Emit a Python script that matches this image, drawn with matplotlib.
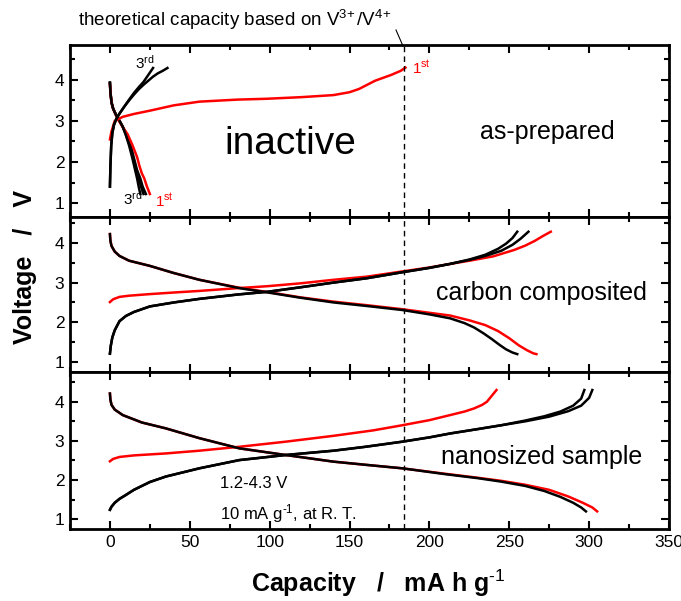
import numpy as np
import matplotlib
matplotlib.use("Agg")
from matplotlib import pyplot as plt
from matplotlib.lines import Line2D

plt.rcParams['font.family'] = ['Liberation Sans', 'DejaVu Sans']
plt.rcParams['mathtext.fontset'] = 'custom'
plt.rcParams['mathtext.rm'] = 'Liberation Sans'
plt.rcParams['mathtext.it'] = 'Liberation Sans:italic'
plt.rcParams['mathtext.bf'] = 'Liberation Sans:bold'

# ---- as-prepared (inactive) ----
top_red_chg_x = [0, 1, 3, 8, 15, 25, 40, 56, 80, 98, 120, 140, 150, 156, 161, 166, 171, 176, 182, 185]
top_red_chg_v = [2.55, 2.75, 3.0, 3.1, 3.17, 3.25, 3.38, 3.47, 3.52, 3.54, 3.58, 3.63, 3.7, 3.78, 3.88, 3.98, 4.05, 4.12, 4.22, 4.3]
top_red_dis_x = [0, 0.3, 1, 2, 4, 6, 8, 11, 14, 17, 18.5, 20, 21.5, 23, 25]
top_red_dis_v = [3.9, 3.7, 3.45, 3.3, 3.12, 2.98, 2.85, 2.68, 2.42, 2.12, 1.9, 1.72, 1.6, 1.42, 1.22]
top_blk_chg_a_x = [0, 0.3, 0.8, 1.5, 2.5, 4, 6, 9, 12, 15, 18, 21, 24, 27]
top_blk_chg_a_v = [1.4, 1.9, 2.4, 2.7, 2.9, 3.05, 3.18, 3.35, 3.52, 3.68, 3.82, 3.95, 4.12, 4.29]
top_blk_chg_b_x = [0, 0.3, 0.8, 1.5, 2.5, 4, 6, 9, 12, 15, 18, 21, 24, 27, 30, 33, 36]
top_blk_chg_b_v = [1.4, 1.9, 2.4, 2.7, 2.9, 3.05, 3.18, 3.35, 3.5, 3.64, 3.77, 3.88, 3.98, 4.08, 4.16, 4.22, 4.29]
top_blk_dis_a_x = [0, 0.3, 1, 2, 4, 6, 8, 10, 12, 14, 15.5, 17, 18, 19]
top_blk_dis_a_v = [3.93, 3.7, 3.45, 3.3, 3.13, 3.0, 2.86, 2.65, 2.4, 2.1, 1.85, 1.6, 1.4, 1.22]
top_blk_dis_b_x = [0, 0.3, 1, 2, 4, 6, 8, 10, 12.5, 14.5, 16.5, 18, 19.5, 21]
top_blk_dis_b_v = [3.93, 3.7, 3.45, 3.3, 3.13, 3.0, 2.86, 2.67, 2.4, 2.1, 1.8, 1.6, 1.4, 1.22]
top_blk_dis_c_x = [0, 0.3, 1, 2, 4, 6, 8, 10.5, 13, 15, 17, 19, 20.5, 22.5]
top_blk_dis_c_v = [3.93, 3.7, 3.45, 3.3, 3.13, 3.0, 2.86, 2.67, 2.4, 2.1, 1.8, 1.6, 1.4, 1.22]

# ---- carbon composited ----
mid_red_chg_x = [0, 2, 6, 12, 25, 40, 56, 80, 99, 119, 140, 161, 183, 200, 213, 225, 240, 253, 260, 266, 271, 276]
mid_red_chg_v = [2.51, 2.58, 2.64, 2.67, 2.71, 2.75, 2.79, 2.86, 2.91, 2.98, 3.07, 3.15, 3.28, 3.38, 3.47, 3.55, 3.66, 3.82, 3.93, 4.05, 4.17, 4.28]
mid_red_dis_x = [0, 0.3, 1, 3, 6, 12, 25, 40, 56, 81, 99, 119, 140, 161, 183, 200, 213, 225, 235, 243, 250, 256, 261, 265, 267]
mid_red_dis_v = [4.22, 4.05, 3.92, 3.78, 3.67, 3.55, 3.42, 3.24, 3.07, 2.87, 2.76, 2.63, 2.52, 2.43, 2.33, 2.24, 2.17, 2.05, 1.93, 1.78, 1.6, 1.42, 1.3, 1.22, 1.2]
mid_blk_chg_a_x = [0, 0.5, 1.5, 3, 6, 10, 15, 25, 40, 56, 80, 99, 119, 140, 161, 183, 200, 213, 225, 235, 243, 248, 252, 255]
mid_blk_chg_a_v = [1.21, 1.4, 1.62, 1.8, 2.03, 2.16, 2.26, 2.4, 2.5, 2.59, 2.7, 2.77, 2.88, 3.0, 3.11, 3.26, 3.37, 3.47, 3.58, 3.7, 3.85, 3.98, 4.12, 4.28]
mid_blk_chg_b_x = [0, 0.5, 1.5, 3, 6, 10, 15, 25, 40, 56, 80, 99, 119, 140, 161, 183, 200, 213, 225, 235, 245, 252, 257, 262]
mid_blk_chg_b_v = [1.21, 1.4, 1.62, 1.8, 2.03, 2.16, 2.26, 2.4, 2.5, 2.59, 2.7, 2.77, 2.88, 3.0, 3.11, 3.26, 3.37, 3.47, 3.57, 3.67, 3.8, 3.95, 4.1, 4.28]
mid_blk_dis_x = [0, 0.3, 1, 3, 6, 12, 25, 40, 56, 81, 99, 119, 140, 161, 183, 200, 213, 222, 228, 234, 239, 244, 248, 252, 255]
mid_blk_dis_v = [4.22, 4.05, 3.92, 3.78, 3.67, 3.55, 3.42, 3.24, 3.07, 2.86, 2.75, 2.62, 2.5, 2.41, 2.31, 2.2, 2.1, 1.98, 1.87, 1.72, 1.58, 1.43, 1.32, 1.24, 1.2]

# ---- nanosized sample ----
bot_red_chg_x = [0, 2, 6, 15, 35, 56, 81, 110, 140, 165, 183, 200, 213, 222, 228, 233, 236, 238, 240, 242]
bot_red_chg_v = [2.48, 2.54, 2.59, 2.63, 2.68, 2.75, 2.85, 2.98, 3.13, 3.27, 3.4, 3.53, 3.66, 3.75, 3.83, 3.92, 4.0, 4.1, 4.2, 4.3]
bot_red_dis_x = [0, 0.3, 1, 3, 8, 20, 35, 56, 81, 110, 140, 160, 183, 210, 230, 245, 260, 275, 287, 296, 302, 305]
bot_red_dis_v = [4.21, 4.05, 3.92, 3.8, 3.66, 3.47, 3.32, 3.07, 2.81, 2.64, 2.47, 2.39, 2.3, 2.16, 2.06, 1.98, 1.88, 1.75, 1.58, 1.42, 1.3, 1.2]
bot_blk_chg_a_x = [0, 1, 3, 6, 10, 15, 25, 35, 56, 81, 110, 140, 160, 183, 200, 213, 230, 245, 260, 272, 282, 290, 295, 297]
bot_blk_chg_a_v = [1.24, 1.32, 1.42, 1.52, 1.62, 1.75, 1.95, 2.09, 2.3, 2.51, 2.64, 2.75, 2.85, 2.98, 3.09, 3.19, 3.3, 3.4, 3.52, 3.63, 3.75, 3.9, 4.08, 4.3]
bot_blk_chg_b_x = [0, 1, 3, 6, 10, 15, 25, 35, 56, 81, 110, 140, 160, 183, 200, 213, 230, 245, 260, 275, 287, 295, 300, 302]
bot_blk_chg_b_v = [1.24, 1.32, 1.42, 1.52, 1.62, 1.75, 1.95, 2.09, 2.3, 2.51, 2.64, 2.75, 2.85, 2.98, 3.09, 3.19, 3.3, 3.4, 3.5, 3.62, 3.76, 3.9, 4.1, 4.3]
bot_blk_dis_x = [0, 0.3, 1, 3, 8, 20, 35, 56, 81, 110, 140, 160, 183, 210, 230, 245, 260, 272, 282, 290, 295, 298]
bot_blk_dis_v = [4.21, 4.05, 3.92, 3.8, 3.66, 3.47, 3.32, 3.07, 2.81, 2.64, 2.47, 2.39, 2.3, 2.15, 2.05, 1.96, 1.85, 1.72, 1.57, 1.42, 1.3, 1.2]

theo_cap = 184
x_ticks = [0, 50, 100, 150, 200, 250, 300, 350]

RED = '#ff0000'
LW = 1.8


def style_axes(ax, ylim, show_x):
    ax.set_xlim(-25, 350)
    ax.set_ylim(*ylim)
    ax.set_xticks(x_ticks)
    ax.set_xticks(np.arange(-25, 351, 25), minor=True)
    ax.set_yticks([1, 2, 3, 4])
    ax.set_yticks([1.5, 2.5, 3.5, 4.5], minor=True)
    ax.tick_params(which='both', direction='in', top=True, right=True, width=1.5)
    ax.tick_params(which='major', length=6, labelsize=12.5, pad=4)
    ax.tick_params(which='minor', length=3.5)
    if not show_x:
        ax.tick_params(labelbottom=False)
    for s in ax.spines.values():
        s.set_linewidth(2)
    ax.axvline(theo_cap, color='black', ls=(0, (4, 3)), lw=1)


fig = plt.figure(figsize=(6.81, 6.01), dpi=100)
L, W = 70 / 681, 599 / 681
ax1 = fig.add_axes([L, 1 - 217 / 601, W, 172 / 601])
ax2 = fig.add_axes([L, 1 - 372 / 601, W, 155 / 601])
ax3 = fig.add_axes([L, 1 - 529 / 601, W, 157 / 601])

# top panel
ax1.plot(top_blk_dis_c_x, top_blk_dis_c_v, color='black', lw=LW)
ax1.plot(top_blk_dis_b_x, top_blk_dis_b_v, color='black', lw=LW)
ax1.plot(top_red_dis_x, top_red_dis_v, color=RED, lw=LW)
ax1.plot(top_blk_dis_a_x, top_blk_dis_a_v, color='black', lw=LW)
ax1.plot(top_red_chg_x, top_red_chg_v, color=RED, lw=LW)
ax1.plot(top_blk_chg_b_x, top_blk_chg_b_v, color='black', lw=LW)
ax1.plot(top_blk_chg_a_x, top_blk_chg_a_v, color='black', lw=LW)
style_axes(ax1, (0.66, 4.85), False)
ax1.text(22, 4.42, '3$^{\\rm rd}$', ha='center', va='center', fontsize=11)
ax1.text(189, 4.3, '1$^{\\rm st}$', ha='left', va='center', fontsize=11, color=RED)
ax1.text(14, 1.1, '3$^{\\rm rd}$', ha='center', va='center', fontsize=11)
ax1.text(34, 1.05, '1$^{\\rm st}$', ha='center', va='center', fontsize=11, color=RED)
ax1.text(113, 2.45, 'inactive', ha='center', va='center', fontsize=28)
ax1.text(274, 2.72, 'as-prepared', ha='center', va='center', fontsize=18)

# middle panel
ax2.plot(mid_red_chg_x, mid_red_chg_v, color=RED, lw=LW)
ax2.plot(mid_red_dis_x, mid_red_dis_v, color=RED, lw=LW)
ax2.plot(mid_blk_chg_b_x, mid_blk_chg_b_v, color='black', lw=LW)
ax2.plot(mid_blk_chg_a_x, mid_blk_chg_a_v, color='black', lw=LW)
ax2.plot(mid_blk_dis_x, mid_blk_dis_v, color='black', lw=LW)
style_axes(ax2, (0.75, 4.65), False)
ax2.text(270, 2.74, 'carbon composited', ha='center', va='center', fontsize=18)

# bottom panel
ax3.plot(bot_red_chg_x, bot_red_chg_v, color=RED, lw=LW)
ax3.plot(bot_red_dis_x, bot_red_dis_v, color=RED, lw=LW)
ax3.plot(bot_blk_chg_b_x, bot_blk_chg_b_v, color='black', lw=LW)
ax3.plot(bot_blk_chg_a_x, bot_blk_chg_a_v, color='black', lw=LW)
ax3.plot(bot_blk_dis_x, bot_blk_dis_v, color='black', lw=LW)
style_axes(ax3, (0.75, 4.76), True)
ax3.text(270, 2.6, 'nanosized sample', ha='center', va='center', fontsize=18)
ax3.text(69, 1.92, '1.2-4.3 V', ha='left', va='center', fontsize=12)
ax3.text(69, 1.14, '10 mA g$^{\\text{-1}}$, at R. T.', ha='left', va='center', fontsize=12)

# annotation for theoretical capacity
fig.text(78 / 681, 1 - 26 / 601, 'theoretical capacity based on V$^{3\\!+}$/V$^{4\\!+}$',
         ha='left', va='baseline', fontsize=13.5)
fig.add_artist(Line2D([396 / 681, 403 / 681], [1 - 30 / 601, 1 - 46 / 601],
                      color='black', lw=0.8, transform=fig.transFigure))

fig.text(0.036, 0.555, 'Voltage   /   V', rotation=90, ha='center', va='center',
         fontsize=18, fontweight='bold')
fig.text(0.556, 0.03, 'Capacity   /   mA h g$^{\\bf{\\text{-1}}}$', ha='center', va='center',
         fontsize=18, fontweight='bold')

fig.savefig('out.png', dpi=100)
